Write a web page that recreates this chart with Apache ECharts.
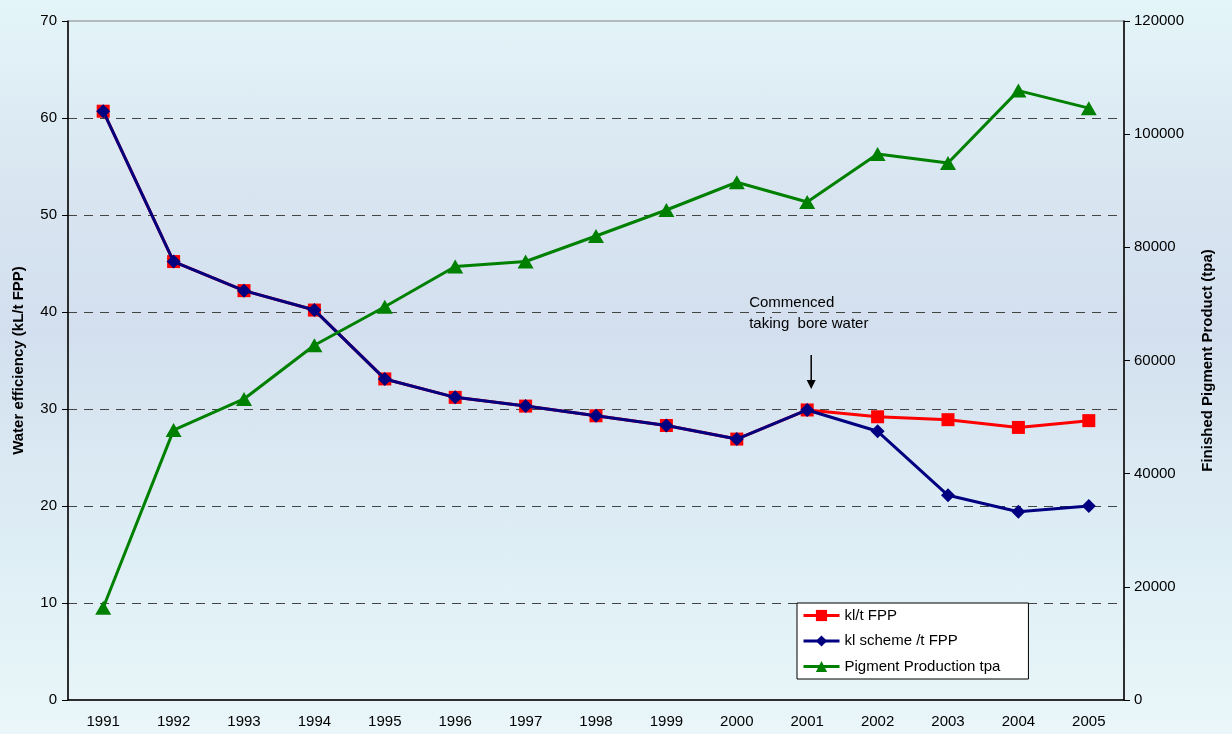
<!DOCTYPE html>
<html>
<head>
<meta charset="utf-8">
<script src="https://cdn.jsdelivr.net/npm/echarts@6/dist/echarts.min.js"></script>
<style>
  html, body { margin: 0; padding: 0; }
  body {
    width: 1232px; height: 734px; overflow: hidden;
    background: linear-gradient(180deg, #e4f5f9 0%, #d9e6f1 25%, #d3dfee 45%, #dbeaf3 65%, #e2f2f7 85%, #eaf6f9 100%);
  }
  #chart { width: 1232px; height: 734px; }
</style>
</head>
<body>
<div id="chart"></div>
<script>
// Water use per tonne of finished pigment, and annual pigment output
const years = ['1991','1992','1993','1994','1995','1996','1997','1998','1999','2000','2001','2002','2003','2004','2005'];
const klPerTonne = [60.7, 45.2, 42.2, 40.2, 33.1, 31.2, 30.3, 29.3, 28.3, 26.9, 29.9, 29.2, 28.9, 28.1, 28.8];
const klSchemePerTonne = [60.7, 45.2, 42.2, 40.2, 33.1, 31.2, 30.3, 29.3, 28.3, 26.9, 29.9, 27.7, 21.1, 19.4, 20.0];
const pigmentTpa = [16300, 47700, 53200, 62700, 69500, 76600, 77500, 82000, 86600, 91500, 88000, 96500, 94900, 107700, 104600];

const FONT = 'Liberation Sans, Arial, sans-serif';
const chart = echarts.init(document.getElementById('chart'), null, { renderer: 'canvas' });

const axisText = { color: '#000', fontFamily: FONT, fontSize: 15 };

chart.setOption({
  animation: false,
  backgroundColor: 'transparent',
  grid: { left: 68, right: 108, top: 21, bottom: 34, show: true, borderColor: '#808080', borderWidth: 1, backgroundColor: 'transparent' },
  legend: {
    orient: 'vertical',
    left: 797, top: 603,
    itemWidth: 36, itemHeight: 14, itemGap: 10.5,
    padding: [5, 28, 5, 5],
    backgroundColor: '#ffffff',
    borderColor: '#000', borderWidth: 1, borderRadius: 0,
    lineStyle: { width: 3 },
    textStyle: { color: '#000', fontFamily: FONT, fontSize: 15 },
    data: ['kl/t FPP', 'kl scheme /t FPP', 'Pigment Production tpa']
  },
  xAxis: {
    type: 'category',
    data: years,
    boundaryGap: true,
    axisLine: { lineStyle: { color: '#000', width: 1.5 } },
    axisTick: { inside: true, length: 6, lineStyle: { color: '#000' } },
    axisLabel: Object.assign({ margin: 14 }, axisText),
    splitLine: { show: false }
  },
  yAxis: [
    {
      type: 'value', min: 0, max: 70, interval: 10,
      name: 'Water efficiency (kL/t FPP)',
      nameLocation: 'middle', nameRotate: 90, nameGap: 42,
      nameTextStyle: { color: '#000', fontFamily: FONT, fontSize: 15, fontWeight: 'bold' },
      axisLine: { show: true, lineStyle: { color: '#000', width: 1.5 } },
      axisTick: { show: true, length: 6, lineStyle: { color: '#000' } },
      axisLabel: Object.assign({ margin: 11 }, axisText),
      splitLine: { show: true, showMinLine: false, showMaxLine: false, lineStyle: { color: '#444', type: [9, 7], width: 1 } }
    },
    {
      type: 'value', min: 0, max: 120000, interval: 20000,
      name: 'Finished Pigment Product (tpa)',
      nameLocation: 'middle', nameRotate: 90, nameGap: 76,
      nameTextStyle: { color: '#000', fontFamily: FONT, fontSize: 15, fontWeight: 'bold' },
      position: 'right',
      axisLine: { show: true, lineStyle: { color: '#000', width: 1.5 } },
      axisTick: { show: true, length: 6, lineStyle: { color: '#000' } },
      axisLabel: Object.assign({ margin: 10, formatter: v => String(v) }, axisText),
      splitLine: { show: false }
    }
  ],
  series: [
    {
      name: 'kl/t FPP', type: 'line', yAxisIndex: 0,
      data: klPerTonne,
      symbol: 'rect', symbolSize: 13,
      lineStyle: { color: '#ff0000', width: 3 },
      itemStyle: { color: '#ff0000' },
      z: 3
    },
    {
      name: 'kl scheme /t FPP', type: 'line', yAxisIndex: 0,
      data: klSchemePerTonne,
      symbol: 'diamond', symbolSize: 14,
      lineStyle: { color: '#000080', width: 3 },
      itemStyle: { color: '#000080' },
      z: 4
    },
    {
      name: 'Pigment Production tpa', type: 'line', yAxisIndex: 1,
      data: pigmentTpa,
      symbol: 'triangle', symbolSize: [16, 14],
      lineStyle: { color: '#008000', width: 3 },
      itemStyle: { color: '#008000' },
      z: 5
    }
  ]
});

// Note about bore water, anchored to the 2001 point
const p = chart.convertToPixel({ xAxisIndex: 0, yAxisIndex: 0 }, ['2001', klPerTonne[10]]);
chart.setOption({
  graphic: [
    {
      type: 'text', left: p[0] - 58, top: p[1] - 118,
      style: { text: 'Commenced\ntaking  bore water', fill: '#000', font: '15px ' + FONT, lineHeight: 21 }
    },
    {
      type: 'line',
      shape: { x1: p[0] + 4, y1: p[1] - 55, x2: p[0] + 4, y2: p[1] - 24 },
      style: { stroke: '#000', lineWidth: 1.5 }
    },
    {
      type: 'polygon',
      shape: { points: [[p[0] - 0.5, p[1] - 30], [p[0] + 8.5, p[1] - 30], [p[0] + 4, p[1] - 21]] },
      style: { fill: '#000' }
    }
  ]
});
</script>
</body>
</html>
